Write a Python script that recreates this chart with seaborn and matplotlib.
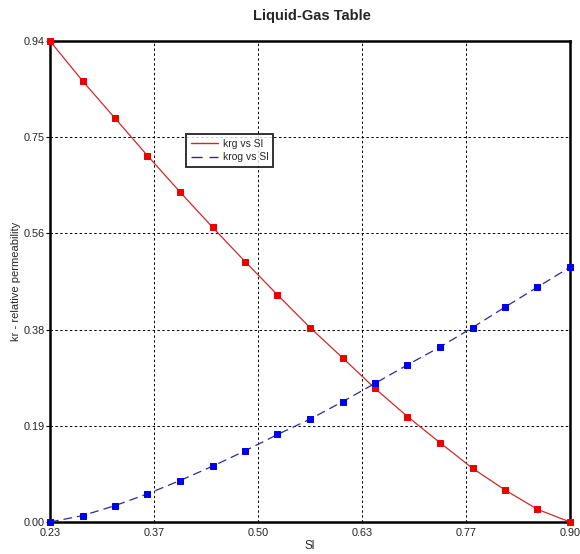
import numpy as np
import pandas as pd
import matplotlib
matplotlib.use("Agg")
import matplotlib.pyplot as plt
from matplotlib.lines import Line2D
import seaborn as sns

# Liquid saturation values and relative permeabilities
sl = [0.23, 0.2719, 0.3138, 0.3556, 0.3975, 0.4394, 0.4813, 0.5231, 0.565,
      0.6069, 0.6488, 0.6906, 0.7325, 0.7744, 0.8163, 0.8581, 0.90]
krg = [0.94, 0.862, 0.789, 0.716, 0.645, 0.576, 0.509, 0.444, 0.380,
       0.321, 0.261, 0.206, 0.155, 0.105, 0.0625, 0.0248, 0.0]
krog = [0.0, 0.0124, 0.032, 0.055, 0.081, 0.109, 0.139, 0.171, 0.201,
        0.235, 0.271, 0.307, 0.342, 0.380, 0.420, 0.459, 0.498]

x_tick_labels = ["0.23", "0.37", "0.50", "0.63", "0.77", "0.90"]
y_tick_labels = ["0.00", "0.19", "0.38", "0.56", "0.75", "0.94"]

title = "Liquid-Gas Table"
x_label = "Sl"
y_label = "kr - relative permeability"
series_names = ["krg vs Sl", "krog vs Sl"]

sns.set_style("white")
plt.rcParams["font.family"] = ["Liberation Sans", "DejaVu Sans"]

df = pd.DataFrame({"Sl": sl, "krg": krg, "krog": krog})

fig = plt.figure(figsize=(5.8, 5.54), dpi=100)
ax = fig.add_axes([50 / 580, 1 - 522 / 554, 520 / 580, 481 / 554])

sns.lineplot(data=df, x="Sl", y="krg", ax=ax, color="#d02828", linewidth=0.9,
             marker="s", markersize=5, markerfacecolor="#ee0000",
             markeredgecolor="#ee0000", clip_on=False, zorder=4)
sns.lineplot(data=df, x="Sl", y="krog", ax=ax, color="#2a2a9a", linewidth=0.9,
             linestyle=(0, (7, 4)), marker="s", markersize=5,
             markerfacecolor="#0000ee", markeredgecolor="#0000ee",
             clip_on=False, zorder=4)

xmin, xmax = sl[0], sl[-1]
ymin, ymax = 0.0, max(krg)
ax.set_xlim(xmin, xmax)
ax.set_ylim(ymin, ymax)
ax.set_xticks(np.linspace(xmin, xmax, len(x_tick_labels)))
ax.set_xticklabels(x_tick_labels)
ax.set_yticks(np.linspace(ymin, ymax, len(y_tick_labels)))
ax.set_yticklabels(y_tick_labels)
ax.tick_params(axis="x", length=0, pad=4, labelsize=7.8)
ax.tick_params(axis="y", length=3, width=0.8, pad=1, labelsize=7.8,
               direction="out", left=True, color="black")
for lbl in ax.get_xticklabels() + ax.get_yticklabels():
    lbl.set_color("#222222")

ax.grid(True, color="black", linestyle=(0, (2.5, 2.5)), linewidth=0.7)
for side in ["left", "right", "top", "bottom"]:
    ax.spines[side].set_visible(True)
    ax.spines[side].set_color("black")
    ax.spines[side].set_linewidth(1.8)

ax.set_xlabel(x_label, fontsize=8.5)
ax.set_ylabel(y_label, fontsize=8)
ax.xaxis.set_label_coords(0.5, (522 - 540) / 481)
ax.yaxis.set_label_coords((21 - 50) / 520, 0.5)

fig.text(312 / 580, 1 - 16 / 554, title, ha="center", va="center",
         fontsize=10.5, fontweight="bold")

handles = [
    Line2D([], [], color="#d02828", linewidth=1.0),
    Line2D([], [], color="#2a2a9a", linewidth=1.0, linestyle=(0, (8, 5))),
]
leg = ax.legend(handles, series_names, loc="upper left",
                bbox_to_anchor=((186 - 50) / 520, (522 - 134) / 481),
                frameon=True, fancybox=False, shadow=False, fontsize=7.5,
                handlelength=2.6, handletextpad=0.5, borderpad=0.45,
                labelspacing=0.35, borderaxespad=0)
leg.get_frame().set_edgecolor("black")
leg.get_frame().set_linewidth(1.4)
leg.set_zorder(5)

fig.savefig("out.png", dpi=100)
